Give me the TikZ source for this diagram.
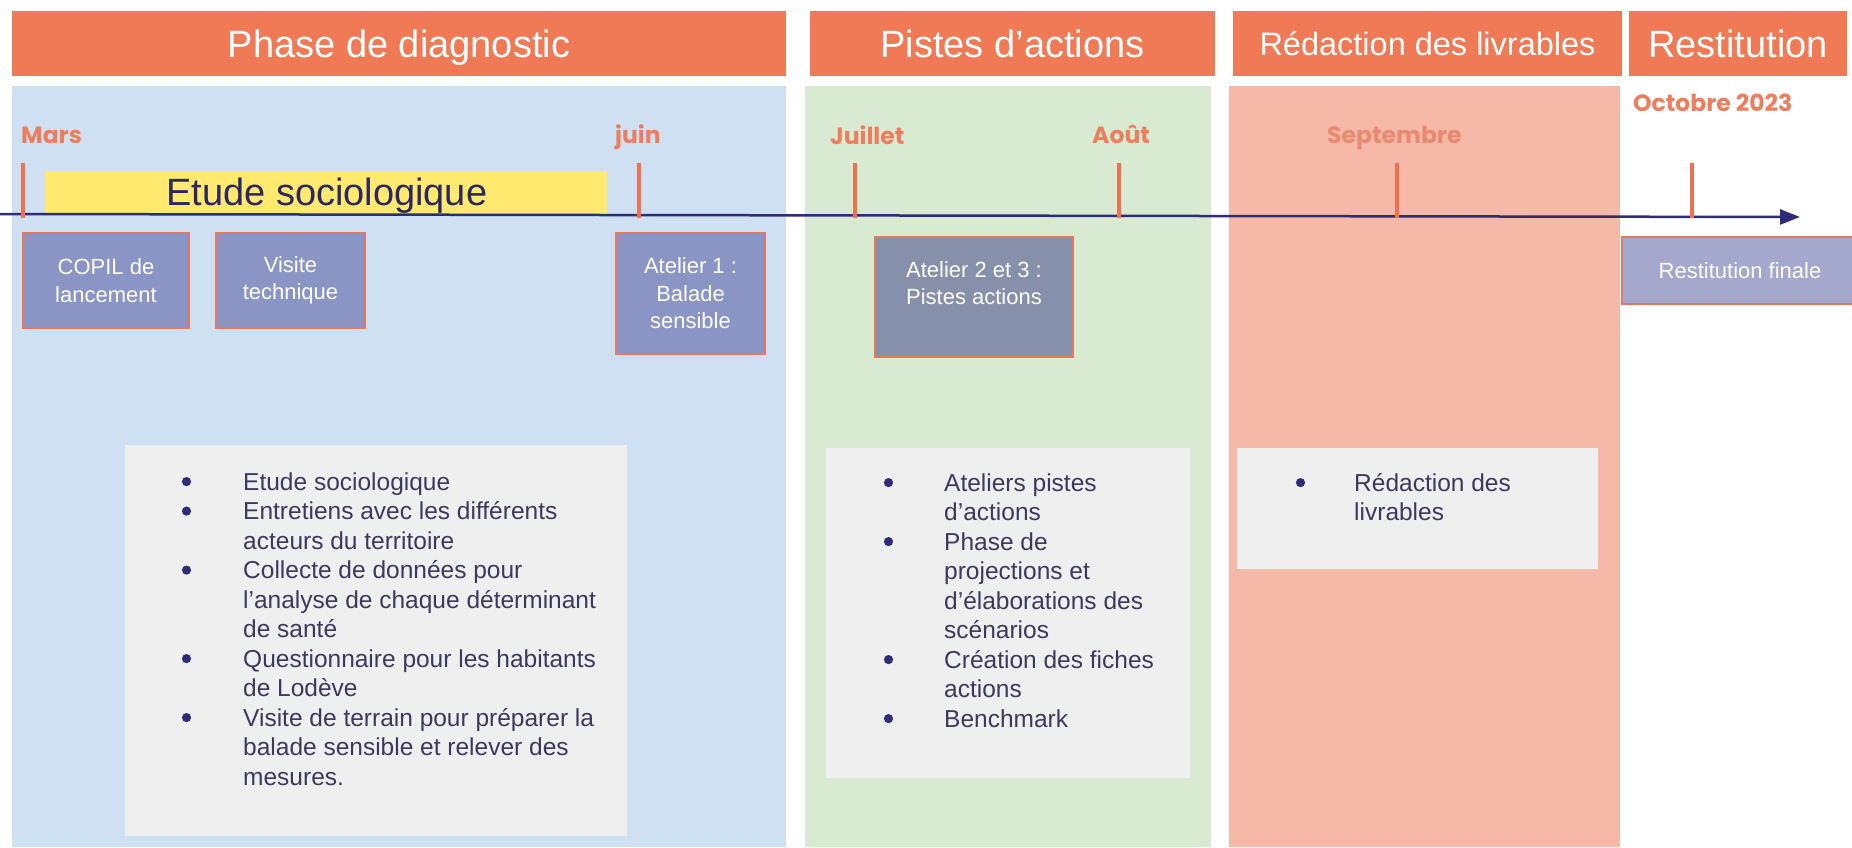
\documentclass[tikz,border=0pt]{standalone}
\usepackage{fontspec}
\setmainfont{Liberation Sans}
\newfontfamily\labelfont{Poppins}
\usetikzlibrary{arrows.meta}
\definecolor{hdr}{HTML}{F07A55}
\definecolor{pblue}{HTML}{CFE0F2}
\definecolor{pgreen}{HTML}{D9EAD3}
\definecolor{psalmon}{HTML}{F6B8A7}
\definecolor{ybar}{HTML}{FFE96E}
\definecolor{slate}{HTML}{8A95C6}
\definecolor{slategrey}{HTML}{8790AA}
\definecolor{lavender}{HTML}{A4A8CC}
\definecolor{boxborder}{HTML}{E8775C}
\definecolor{listbg}{HTML}{EFEFEF}
\definecolor{navy}{HTML}{2E2B78}
\definecolor{etudetxt}{HTML}{2A2762}
\definecolor{listtxt}{HTML}{3B3A5E}
\definecolor{month}{HTML}{EE7D5D}
\definecolor{monthpale}{HTML}{E98A70}
\definecolor{tickc}{HTML}{F0714F}
\begin{document}
\begin{tikzpicture}[x=1pt,y=-1pt,
  rect/.style={anchor=north west, inner sep=0pt, outer sep=0pt},
  header/.style={rect, fill=hdr, text=white, font=\fontsize{38}{44}\selectfont,
    text height=27.5pt, text depth=0pt},
  panel/.style={rect, minimum height=761pt},
  evbox/.style={rect, draw=boxborder, line width=2.5pt, text=white,
    font=\fontsize{22}{27.5}\selectfont, align=center},
  evtext/.style={text=white, font=\fontsize{22}{27.5}\selectfont, align=center, inner sep=0pt},
  listbox/.style={rect, fill=listbg},
  listtext/.style={anchor=base west, inner sep=0pt, text=listtxt,
    font=\fontsize{24.5}{29.5}\selectfont},
  bulletdot/.style={fill=navy},
  monthlbl/.style={text=month, font=\labelfont\bfseries\fontsize{23.5}{28}\selectfont,
    inner sep=0pt, anchor=base west},
  tickline/.style={draw=tickc, line width=4pt},
]
\useasboundingbox (0,0) rectangle (1852,848);
\fill[white] (0,0) rectangle (1852,848);

% headers
\node[header, minimum width=774pt, minimum height=65pt] (h1) at (12,11) {Phase de diagnostic};
\node[header, minimum width=405pt, minimum height=65pt] (h2) at (810,11) {Pistes d’actions};
\node[header, minimum width=389pt, minimum height=65pt, font=\fontsize{32.5}{38}\selectfont,
  text height=23.5pt] (h3) at (1233,11) {Rédaction des livrables};
\node[header, minimum width=218pt, minimum height=65pt] (h4) at (1629,11) {Restitution};

% panels
\node[panel, fill=pblue, minimum width=774pt] (p1) at (12,86) {};
\node[panel, fill=pgreen, minimum width=406pt] (p2) at (805,86) {};
\node[panel, fill=psalmon, minimum width=391pt] (p3) at (1229,86) {};

% yellow bar
\node[rect, fill=ybar, minimum width=562pt, minimum height=42pt] (ybar) at (45,171) {};
\node[anchor=base west, inner sep=0pt, text=etudetxt, font=\fontsize{38}{44}\selectfont] (etude) at (166,205) {Etude sociologique};

% timeline
\coordinate (tl0) at (0,214);
\coordinate (tl1) at (1800,217);
\draw[navy, line width=2.5pt, -{Triangle[length=20pt,width=15pt]}] (tl0) -- (tl1);

% ticks
\draw[tickline] (23,163) -- (23,218);
\draw[tickline] (639,163) -- (639,218);
\draw[tickline] (855,163) -- (855,218);
\draw[tickline] (1119,163) -- (1119,218);
\draw[tickline] (1397,163) -- (1397,218);
\draw[tickline] (1692,163) -- (1692,218);

% month labels
\node[monthlbl] (mars) at (21,143) {Mars};
\node[monthlbl] (juin) at (615,143) {juin};
\node[monthlbl] (juil) at (830,145) {Juillet};
\node[monthlbl] (aout) at (1092,143) {Août};
\node[monthlbl, text=monthpale] (sept) at (1327,143) {Septembre};
\node[monthlbl] (oct) at (1633,112) {Octobre 2023};

% event boxes
\node[evbox, fill=slate, minimum width=166pt, minimum height=95pt] (copil) at (23,233) {COPIL de\\lancement};
\node[evbox, fill=slate, minimum width=149pt, minimum height=95pt] (visite) at (216,233) {Visite\\technique};
\node[evbox, fill=slate, minimum width=149pt, minimum height=121pt] (at1) at (616,233) {Atelier 1 :\\Balade\\sensible};
\node[evbox, fill=slategrey, minimum width=198pt, minimum height=120pt] (at2) at (875,237) {};
\node[evtext] (at2t) at (974,283) {Atelier 2 et 3 :\\Pistes actions};
\node[evbox, fill=lavender, line width=1.5pt, minimum width=240pt, minimum height=67pt] (resti) at (1622,237) {};
\node[evtext] (restit) at (1740,271) {Restitution finale};

% list boxes
\node[listbox, minimum width=502pt, minimum height=391pt] (g1) at (125,445) {};
\node[listbox, minimum width=364pt, minimum height=330pt] (g2) at (826,448) {};
\node[listbox, minimum width=361pt, minimum height=121pt] (g3) at (1237,448) {};

% bullets
\foreach \i in {0,1,3,6,8} \fill[bulletdot] (186.5,481.6+29.5*\i) circle[radius=4.6pt];
\foreach \i in {0,2,6,8} \fill[bulletdot] (888.5,482.6+29.5*\i) circle[radius=4.6pt];
\fill[bulletdot] (1300.5,482.6) circle[radius=4.6pt];

\node[listtext] (l1) at (243,490) {\begin{tabular}[t]{@{}l@{}}
Etude sociologique\\
Entretiens avec les différents\\
acteurs du territoire\\
Collecte de données pour\\
l’analyse de chaque déterminant\\
de santé\\
Questionnaire pour les habitants\\
de Lodève\\
Visite de terrain pour préparer la\\
balade sensible et relever des\\
mesures.
\end{tabular}};

\node[listtext] (l2) at (944,491) {\begin{tabular}[t]{@{}l@{}}
Ateliers pistes\\
d’actions\\
Phase de\\
projections et\\
d’élaborations des\\
scénarios\\
Création des fiches\\
actions\\
Benchmark
\end{tabular}};

\node[listtext] (l3) at (1354,491) {\begin{tabular}[t]{@{}l@{}}
Rédaction des\\
livrables
\end{tabular}};
\end{tikzpicture}
\end{document}
